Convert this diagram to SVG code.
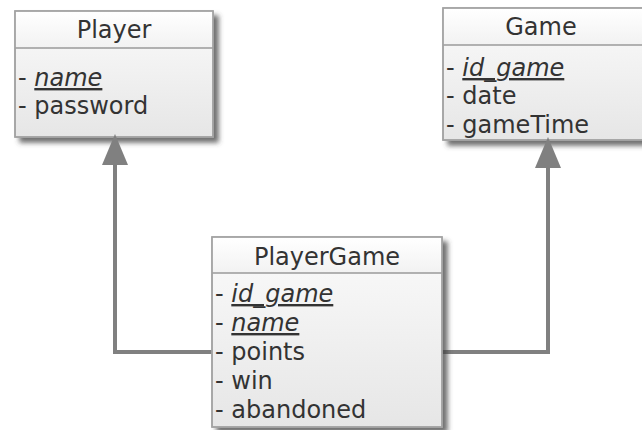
<svg xmlns="http://www.w3.org/2000/svg" width="642" height="430" viewBox="0 0 642 430">
  <style>
    .box { stroke: #a3a3a3; stroke-width: 1.5; }
    .head { fill: url(#headFill); }
    .body { fill: url(#bodyFill); }
    .sep { stroke: #9a9a9a; stroke-width: 1.5; }
    text { font-family: "DejaVu Sans", Verdana, sans-serif; font-size: 24px; fill: #333333; }
    .title { text-anchor: middle; }
    .key { font-style: italic; text-decoration: underline; }
    .conn { fill: none; stroke: #808080; stroke-width: 4; }
  </style>
  <defs>
    <linearGradient id="headFill" x1="0" y1="0" x2="0" y2="1">
      <stop offset="0" stop-color="#ffffff"/>
      <stop offset="1" stop-color="#f2f2f2"/>
    </linearGradient>
    <linearGradient id="bodyFill" x1="0" y1="0" x2="0" y2="1">
      <stop offset="0" stop-color="#fbfbfb"/>
      <stop offset="1" stop-color="#e6e6e6"/>
    </linearGradient>
    <filter id="shadow" x="-10%" y="-10%" width="130%" height="130%">
      <feDropShadow dx="5" dy="5" stdDeviation="2.5" flood-color="#404040" flood-opacity="0.75"/>
    </filter>
    <!-- filled triangle; the path ends at the base, the tip lies 31 units further on -->
    <marker id="arrow" viewBox="0 0 31 26" refX="0" refY="13" markerUnits="userSpaceOnUse" markerWidth="31" markerHeight="26" orient="auto">
      <path d="M0 0 L31 13 L0 26 Z" fill="#808080"/>
    </marker>
  </defs>

  <!-- Player -->
  <g id="player">
    <g filter="url(#shadow)">
      <rect class="box body" x="15" y="11" width="198" height="126"/>
    </g>
    <rect class="head" x="15.75" y="11.75" width="196.5" height="36.25"/>
    <line class="sep" x1="15" y1="48" x2="213" y2="48"/>
    <rect class="box" x="15" y="11" width="198" height="126" fill="none"/>
    <text class="title" x="114" y="38">Player</text>
    <text x="18" y="86">- <tspan class="key">name</tspan></text>
    <text x="18" y="114">- password</text>
  </g>

  <!-- Game -->
  <g id="game">
    <g filter="url(#shadow)">
      <rect class="box body" x="443" y="8" width="202" height="132"/>
    </g>
    <rect class="head" x="443.75" y="8.75" width="200" height="36.25"/>
    <line class="sep" x1="443" y1="45" x2="645" y2="45"/>
    <rect class="box" x="443" y="8" width="202" height="132" fill="none"/>
    <text class="title" x="541" y="35">Game</text>
    <text x="446" y="76">- <tspan class="key">id_game</tspan></text>
    <text x="446" y="104">- date</text>
    <text x="446" y="132.5">- gameTime</text>
  </g>

  <!-- Connectors -->
  <g id="connectors">
    <path class="conn" d="M212 352 H115 V165" marker-end="url(#arrow)"/>
    <path class="conn" d="M442 352 H548 V168" marker-end="url(#arrow)"/>
  </g>

  <!-- PlayerGame -->
  <g id="playergame">
    <g filter="url(#shadow)">
      <rect class="box body" x="212" y="237" width="230" height="190"/>
    </g>
    <rect class="head" x="212.75" y="237.75" width="228.5" height="35.25"/>
    <line class="sep" x1="212" y1="273" x2="442" y2="273"/>
    <rect class="box" x="212" y="237" width="230" height="190" fill="none"/>
    <text class="title" x="327" y="265">PlayerGame</text>
    <text x="215" y="302">- <tspan class="key">id_game</tspan></text>
    <text x="215" y="331">- <tspan class="key">name</tspan></text>
    <text x="215" y="360">- points</text>
    <text x="215" y="389">- win</text>
    <text x="215" y="418">- abandoned</text>
  </g>
</svg>
